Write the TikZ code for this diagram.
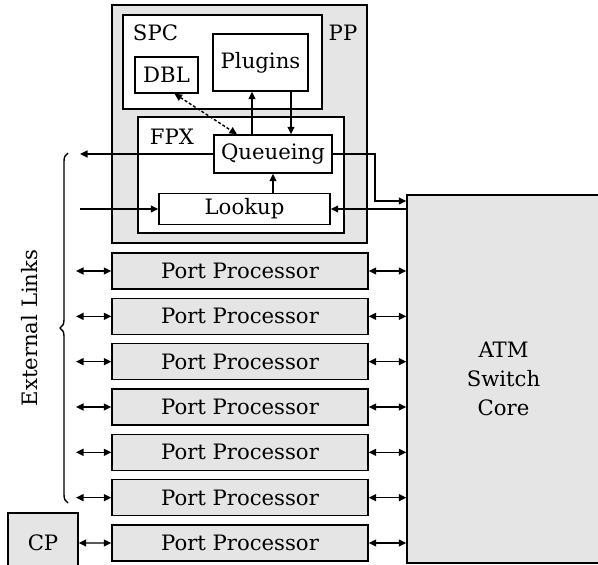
\documentclass[tikz,border=0pt]{standalone}
\usepackage{fontspec}
\setmainfont{DejaVu Serif}
\usetikzlibrary{arrows.meta,positioning,calc,decorations.pathreplacing}

\begin{document}
\begin{tikzpicture}[
    x=1pt, y=-1pt,
    box/.style={draw, line width=1.4pt, fill=white, inner sep=0pt, font=\fontsize{21.2}{29}\selectfont},
    graybox/.style={box, fill=gray!20},
    tag/.style={inner sep=0pt, font=\fontsize{21.2}{29}\selectfont},
    wire/.style={line width=1.4pt, -{Triangle[length=7.5pt,width=7pt]}},
    bothwire/.style={line width=1.4pt, {Triangle[length=7.5pt,width=7pt]}-{Triangle[length=7.5pt,width=7pt]}},
    dotwire/.style={bothwire, dash pattern=on 3pt off 2pt}
  ]
  \useasboundingbox (0,0) rectangle (598,565);

  % port processor with its SPC and FPX
  \node[graybox, minimum width=255pt, minimum height=238pt] (pp) at (239.5,124) {};
  \node[box, minimum width=199pt, minimum height=94pt] (spc) at (222.5,62) {};
  \node[box, minimum width=206pt, minimum height=116pt] (fpx) at (241,175) {};
  \node[box, minimum width=63pt, minimum height=36pt] (dbl) at (166.5,75) {DBL};
  \node[box, minimum width=95pt, minimum height=57pt] (plug) at (260.5,62.5) {Plugins};
  \node[box, minimum width=118pt, minimum height=38pt] (queue) at (273,154) {Queueing};
  \node[box, minimum width=171pt, minimum height=31pt] (look) at (244.5,209) {Lookup};
  \node[tag] (spclbl) at (155.5,33) {SPC};
  \node[tag] (pplbl) at (343,33) {PP};
  \node[tag] (fpxlbl) at (172,137) {FPX};

  % switch core
  \node[graybox, minimum width=193pt, minimum height=368pt, align=center] (atm) at (503.5,379) {ATM\\Switch\\Core};

  % control processor
  \node[graybox, minimum width=70pt, minimum height=60pt] (cp) at (43,543) {CP};

  \foreach \i in {0,...,6}{
    \node[graybox, minimum width=256pt, minimum height=36pt] (port\i) at (240,{271+45.33*\i}) {Port Processor};
    \draw[bothwire] (port\i.east) -- (port\i.east -| atm.west);
  }
  \foreach \i in {0,...,5}{
    \coordinate (ext\i) at (76,{271+45.33*\i});
    \draw[bothwire] (ext\i) -- (port\i.west);
  }
  \draw[bothwire] (cp.east) -- (port6.west);

  % external links
  \coordinate (bracebot) at (68,503);
  \coordinate (bracetop) at (68,153);
  \draw[line width=1.4pt, decorate, decoration={brace, amplitude=8pt}] (bracebot) -- (bracetop);
  \node[tag, rotate=90] (extlbl) at (30,328) {External Links};

  % data paths
  \coordinate (qout) at (80,154);
  \coordinate (lin) at (80,209);
  \coordinate (qbend) at (375,201);
  \draw[wire] (queue.west) -- (qout);
  \draw[wire] (lin) -- (look.west);
  \draw[wire] ([xshift=-21pt]queue.north) -- ([xshift=-21pt]queue.north |- plug.south);
  \draw[wire] ([xshift=18pt]queue.north |- plug.south) -- ([xshift=18pt]queue.north);
  \draw[wire] (look.north -| queue.south) -- (queue.south);
  \draw[dotwire] ([xshift=8pt]dbl.south) -- ([xshift=-36pt]queue.north);
  \draw[wire] (queue.east) -| (qbend) -- (qbend -| atm.west);
  \draw[wire] (atm.west |- look.east) -- (look.east);
\end{tikzpicture}
\end{document}
